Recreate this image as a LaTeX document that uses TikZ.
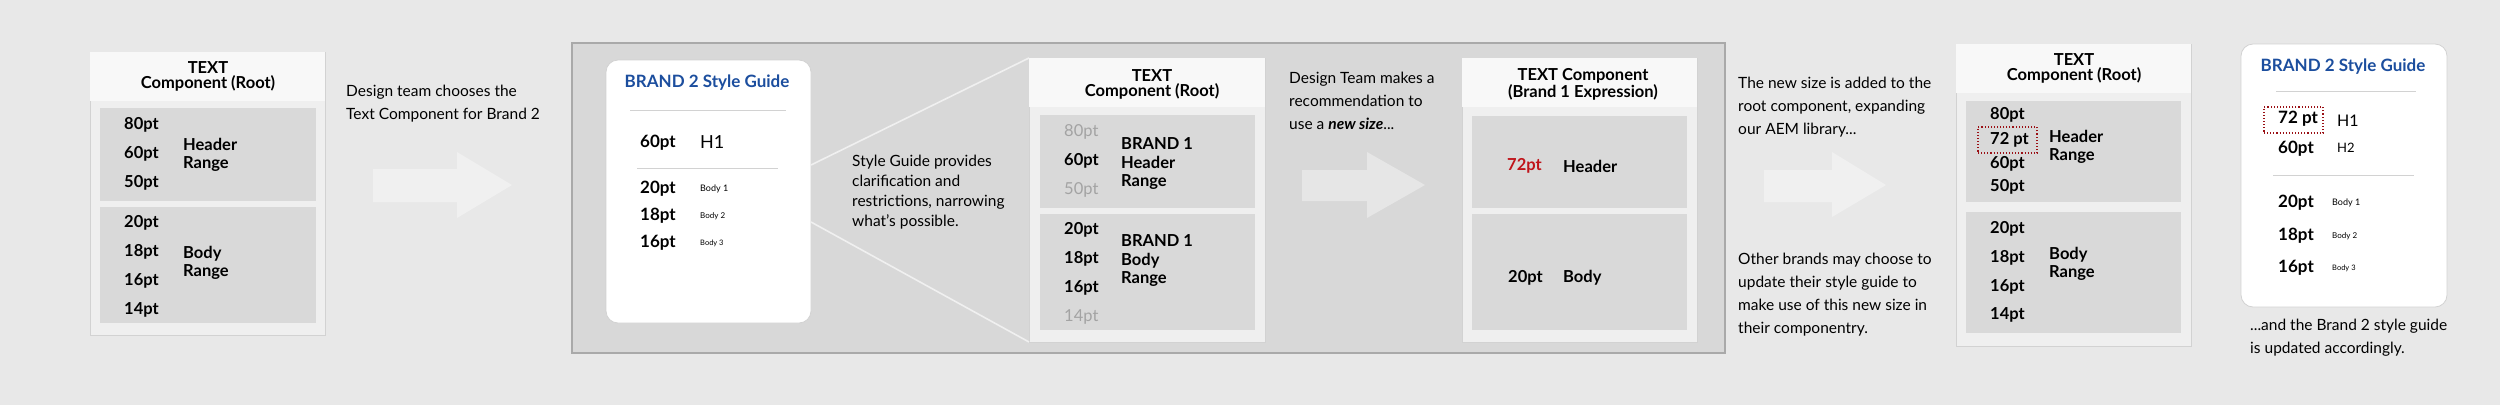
\documentclass[tikz,border=0pt]{standalone}
\usepackage{fontspec}
\setmainfont{Lato}
\definecolor{bg}{HTML}{E8E8E8}
\definecolor{outerc}{HTML}{EFEFEF}
\definecolor{headc}{HTML}{F8F8F8}
\definecolor{bandc}{HTML}{D9D9D9}
\definecolor{panelc}{HTML}{D8D8D8}
\definecolor{panelline}{HTML}{A9A9A9}
\definecolor{blueT}{HTML}{1C4E9E}
\definecolor{redT}{HTML}{C0141A}
\definecolor{fadeT}{HTML}{A3A3A3}
\definecolor{arrowc}{HTML}{F0F0F0}
\definecolor{shadowc}{HTML}{D2D2D2}
\newcommand\setfs[2]{\fontsize{#1}{#2}\selectfont}
\begin{document}
\begin{tikzpicture}[x=1pt,y=-1pt,
  box/.style={inner sep=0pt, outer sep=0pt, anchor=north west},
  outerbox/.style={box, fill=outerc, draw=shadowc, line width=0.8pt},
  headbox/.style={box, fill=headc},
  band/.style={box, fill=bandc},
  title/.style={inner sep=0pt, align=center, font=\bfseries\setfs{16.5}{15}},
  sz/.style={inner sep=0pt, anchor=west, font=\bfseries\setfs{16.5}{18}},
  lbl/.style={inner sep=0pt, anchor=west, align=left, font=\bfseries\setfs{16.5}{18.5}},
  note/.style={inner sep=0pt, anchor=west, align=left, font=\setfs{15.5}{23}},
  arrowshape/.style={fill=arrowc, draw=none},
  card/.style={fill=white, draw=shadowc, line width=0.8pt, rounded corners=12pt},
  rule/.style={draw=shadowc, line width=1pt},
  fan/.style={draw=arrowc, line width=1.6pt},
  newbox/.style={draw=redT!80!black, dotted, line width=1.1pt}
]
\useasboundingbox[fill=bg] (0,0) rectangle (2500,405);

% ---------- Panel 1: root component ----------
\node[outerbox, minimum width=235, minimum height=283] (r1) at (90,52) {};
\node[headbox, minimum width=235, minimum height=49] (r1h) at (90,52) {};
\node[band, minimum width=216, minimum height=93] (r1b1) at (100,108) {};
\node[band, minimum width=216, minimum height=116] (r1b2) at (100,207) {};
\node[title] (r1t) at (208,76) {TEXT\\Component (Root)};
\node[sz] (r1s80) at (124,125) {80pt};
\node[sz] (r1s60) at (124,154) {60pt};
\node[sz] (r1s50) at (124,183) {50pt};
\node[lbl] (r1hr) at (183,155) {Header\\Range};
\node[sz] (r1s20) at (124,223) {20pt};
\node[sz] (r1s18) at (124,252) {18pt};
\node[sz] (r1s16) at (124,281) {16pt};
\node[sz] (r1s14) at (124,310) {14pt};
\node[lbl] (r1br) at (183,263) {Body\\Range};

\node[note] (n1) at (346,104) {Design team chooses the\\Text Component for Brand 2};
\path[arrowshape] (373,169) -- (457,169) -- (457,152) -- (512,185) -- (457,218) -- (457,202) -- (373,202) -- cycle;

% ---------- Big panel ----------
\node[box, fill=panelc, draw=panelline, line width=1.5pt, minimum width=1153, minimum height=310] (panel) at (572,43) {};

% style guide card
\node[box, card, minimum width=205, minimum height=263] (sg1) at (606,60) {};
\node[inner sep=0pt, text=blueT, font=\bfseries\setfs{17}{20}] (sg1t) at (707,83) {BRAND 2 Style Guide};
\draw[rule] (630,110) -- (786,110);
\node[sz, font=\bfseries\setfs{17}{20}] (sg1s60) at (640,143) {60pt};
\node[inner sep=0pt, anchor=west, font=\setfs{18}{20}] (sg1h1) at (700,142) {H1};
\draw[rule] (637,168) -- (778,168);
\node[sz, font=\bfseries\setfs{17}{20}] (sg1s20) at (640,189) {20pt};
\node[sz, font=\bfseries\setfs{17}{20}] (sg1s18) at (640,216) {18pt};
\node[sz, font=\bfseries\setfs{17}{20}] (sg1s16) at (640,243) {16pt};
\node[inner sep=0pt, anchor=west, font=\setfs{9}{10}] (sg1b1) at (700,189) {Body 1};
\node[inner sep=0pt, anchor=west, font=\setfs{8}{10}] (sg1b2) at (700,216) {Body 2};
\node[inner sep=0pt, anchor=west, font=\setfs{7.5}{10}] (sg1b3) at (700,243) {Body 3};

\node[note, font=\setfs{15.5}{20}] (n2) at (852,192) {Style Guide provides\\clarification and\\restrictions, narrowing\\what’s possible.};

% middle root component (brand 1)
\node[outerbox, minimum width=236, minimum height=284] (r2) at (1029,58) {};
\node[headbox, minimum width=236, minimum height=49] (r2h) at (1029,58) {};
\node[band, minimum width=215, minimum height=93] (r2b1) at (1040,115) {};
\node[band, minimum width=215, minimum height=116] (r2b2) at (1040,214) {};
\node[title] (r2t) at (1152,84) {TEXT\\Component (Root)};
\node[sz, text=fadeT, font=\setfs{16.5}{18}] (r2s80) at (1064,132) {80pt};
\node[sz] (r2s60) at (1064,161) {60pt};
\node[sz, text=fadeT, font=\setfs{16.5}{18}] (r2s50) at (1064,190) {50pt};
\node[lbl] (r2hr) at (1121,164) {BRAND 1\\Header\\Range};
\node[sz] (r2s20) at (1064,230) {20pt};
\node[sz] (r2s18) at (1064,259) {18pt};
\node[sz] (r2s16) at (1064,288) {16pt};
\node[sz, text=fadeT, font=\setfs{16.5}{18}] (r2s14) at (1064,317) {14pt};
\node[lbl] (r2br) at (1121,261) {BRAND 1\\Body\\Range};

\coordinate (fanA) at (811,165);
\coordinate (fanB) at (811,222);
\draw[fan] (fanA) -- (r2.north west);
\draw[fan] (fanB) -- (r2.south west);

\node[note] (n3) at (1289,101) {Design Team makes a\\recommendation to\\use a \textbf{\textit{new size}}...};
\path[arrowshape, fill=arrowc!60!panelc] (1302,170) -- (1367,170) -- (1367,152) -- (1425,185) -- (1367,218) -- (1367,201) -- (1302,201) -- cycle;

% brand 1 expression component
\node[outerbox, minimum width=235, minimum height=284] (e1) at (1462,58) {};
\node[headbox, minimum width=235, minimum height=49] (e1h) at (1462,58) {};
\node[band, minimum width=215, minimum height=92] (e1b1) at (1472,116) {};
\node[band, minimum width=215, minimum height=116] (e1b2) at (1472,214) {};
\node[title] (e1t) at (1583,84) {TEXT Component\\(Brand 1 Expression)};
\node[sz, text=redT] (e1s72) at (1507,166) {72pt};
\node[lbl] (e1h1) at (1563,166) {Header};
\node[sz] (e1s20) at (1508,278) {20pt};
\node[lbl] (e1b) at (1563,278) {Body};

% ---------- right side ----------
\node[note] (n4) at (1738,107) {The new size is added to the\\root component, expanding\\our AEM library...};
\node[note] (n5) at (1738,295) {Other brands may choose to\\update their style guide to\\make use of this new size in\\their componentry.};
\path[arrowshape] (1764,170) -- (1832,170) -- (1832,152) -- (1886,185) -- (1832,217) -- (1832,202) -- (1764,202) -- cycle;

% final root component
\node[outerbox, minimum width=235, minimum height=302] (r3) at (1956,44) {};
\node[headbox, minimum width=235, minimum height=49] (r3h) at (1956,44) {};
\node[band, minimum width=215, minimum height=101] (r3b1) at (1966,101) {};
\node[band, minimum width=215, minimum height=121] (r3b2) at (1966,212) {};
\node[title] (r3t) at (2074,68) {TEXT\\Component (Root)};
\node[sz] (r3s80) at (1990,115) {80pt};
\node[sz] (r3s72) at (1990,140) {72 pt};
\node[newbox, box, minimum width=59, minimum height=26] (r3new) at (1978,127) {};
\node[sz] (r3s60) at (1990,164) {60pt};
\node[sz] (r3s50) at (1990,187) {50pt};
\node[lbl] (r3hr) at (2049,147) {Header\\Range};
\node[sz] (r3s20) at (1990,229) {20pt};
\node[sz] (r3s18) at (1990,258) {18pt};
\node[sz] (r3s16) at (1990,287) {16pt};
\node[sz] (r3s14) at (1990,315) {14pt};
\node[lbl] (r3br) at (2049,264) {Body\\Range};

% final style guide card
\node[box, card, minimum width=206, minimum height=263] (sg2) at (2241,44) {};
\node[inner sep=0pt, text=blueT, font=\bfseries\setfs{17}{20}] (sg2t) at (2343,67) {BRAND 2 Style Guide};
\draw[rule] (2276,91) -- (2416,91);
\node[sz, font=\bfseries\setfs{17}{20}] (sg2s72) at (2278,119) {72 pt};
\node[newbox, box, minimum width=59, minimum height=26] (sg2new) at (2264,107) {};
\node[inner sep=0pt, anchor=west, font=\setfs{16}{20}] (sg2h1) at (2337,121) {H1};
\node[sz, font=\bfseries\setfs{17}{20}] (sg2s60) at (2278,149) {60pt};
\node[inner sep=0pt, anchor=west, font=\setfs{13}{20}] (sg2h2) at (2337,148) {H2};
\draw[rule] (2273,175) -- (2414,175);
\node[sz, font=\bfseries\setfs{17}{20}] (sg2s20) at (2278,203) {20pt};
\node[sz, font=\bfseries\setfs{17}{20}] (sg2s18) at (2278,236) {18pt};
\node[sz, font=\bfseries\setfs{17}{20}] (sg2s16) at (2278,268) {16pt};
\node[inner sep=0pt, anchor=west, font=\setfs{9}{10}] (sg2b1) at (2332,203) {Body 1};
\node[inner sep=0pt, anchor=west, font=\setfs{8}{10}] (sg2b2) at (2332,236) {Body 2};
\node[inner sep=0pt, anchor=west, font=\setfs{7.5}{10}] (sg2b3) at (2332,268) {Body 3};
\node[note] (n6) at (2250,338) {...and the Brand 2 style guide\\is updated accordingly.};
\end{tikzpicture}
\end{document}
